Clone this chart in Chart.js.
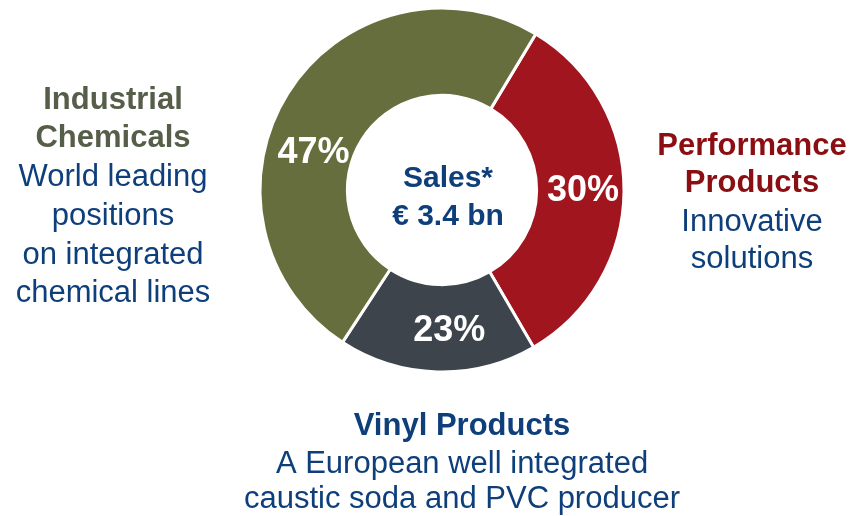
<!DOCTYPE html>
<html><head><meta charset="utf-8">
<script src="https://cdn.jsdelivr.net/npm/chart.js@4"></script>
<style>html,body{margin:0;padding:0;background:#fff;overflow:hidden}</style>
</head><body>
<canvas id="c" width="849" height="516"></canvas>
<script>
// ---- data ----
const segments = ['Performance Products', 'Vinyl Products', 'Industrial Chemicals'];
const sliceShares = [33.0, 17.6, 49.4];          // arc sizes as drawn in the picture
const shareLabels = ['30%', '23%', '47%'];        // printed percentages
const segmentColors = ['#A0151E', '#3D444C', '#666E3D'];
const centerLines = ['Sales*', '€ 3.4 bn'];
const industrialTitle = ['Industrial', 'Chemicals'];
const industrialDesc = ['World leading', 'positions', 'on integrated', 'chemical lines'];
const performanceTitle = ['Performance', 'Products'];
const performanceDesc = ['Innovative', 'solutions'];
const vinylTitle = ['Vinyl Products'];
const vinylDesc = ['A European well integrated', 'caustic soda and PVC producer'];

const FONT = '"Liberation Sans", Arial, Helvetica, sans-serif';
const BLUE = '#0E3F7A';

function drawLines(ctx, lines, x, baselines, font, color) {
  ctx.font = font; ctx.fillStyle = color; ctx.textAlign = 'center'; ctx.textBaseline = 'alphabetic';
  lines.forEach((t, i) => ctx.fillText(t, x, baselines[i]));
}

const textPlugin = {
  id: 'texts',
  afterDatasetsDraw(chart) {
    const ctx = chart.ctx;
    const meta = chart.getDatasetMeta(0);
    const cx = meta.data[0].x, cy = meta.data[0].y;
    ctx.save();
    // percentage labels placed around the ring (angle clockwise from top, radius)
    const polar = [[90, 141], [177, 140], [286.5, 134]];
    ctx.font = 'bold 36px ' + FONT; ctx.fillStyle = '#fff';
    ctx.textAlign = 'center'; ctx.textBaseline = 'middle';
    shareLabels.forEach((t, i) => {
      const a = polar[i][0] * Math.PI / 180, r = polar[i][1];
      ctx.fillText(t, cx + r * Math.sin(a), cy - r * Math.cos(a) + 1);
    });
    // centre
    drawLines(ctx, centerLines, cx + 6, [cy - 3, cy + 35], 'bold 30px ' + FONT, BLUE);
    // left block
    drawLines(ctx, industrialTitle, 113, [109, 147], 'bold 31px ' + FONT, '#545E48');
    drawLines(ctx, industrialDesc, 113, [186, 225, 264, 302], '31px ' + FONT, BLUE);
    // right block
    drawLines(ctx, performanceTitle, 752, [155, 192], 'bold 31px ' + FONT, '#8B0E13');
    drawLines(ctx, performanceDesc, 752, [231, 268], '31px ' + FONT, BLUE);
    // bottom block
    drawLines(ctx, vinylTitle, 462, [435], 'bold 31px ' + FONT, BLUE);
    drawLines(ctx, vinylDesc, 462, [473, 508], '31px ' + FONT, BLUE);
    ctx.restore();
  }
};

new Chart(document.getElementById('c'), {
  type: 'doughnut',
  data: {
    labels: segments,
    datasets: [{
      data: sliceShares,
      backgroundColor: segmentColors,
      borderColor: '#ffffff',
      borderWidth: 3,
      hoverOffset: 0
    }]
  },
  options: {
    responsive: false,
    animation: false,
    rotation: 31,
    cutout: '52%',
    layout: { padding: { left: 258.5, right: 223.5, top: 6.5, bottom: 142.5 } },
    plugins: { legend: { display: false }, tooltip: { enabled: false } },
    events: []
  },
  plugins: [textPlugin]
});
</script>
</body></html>
